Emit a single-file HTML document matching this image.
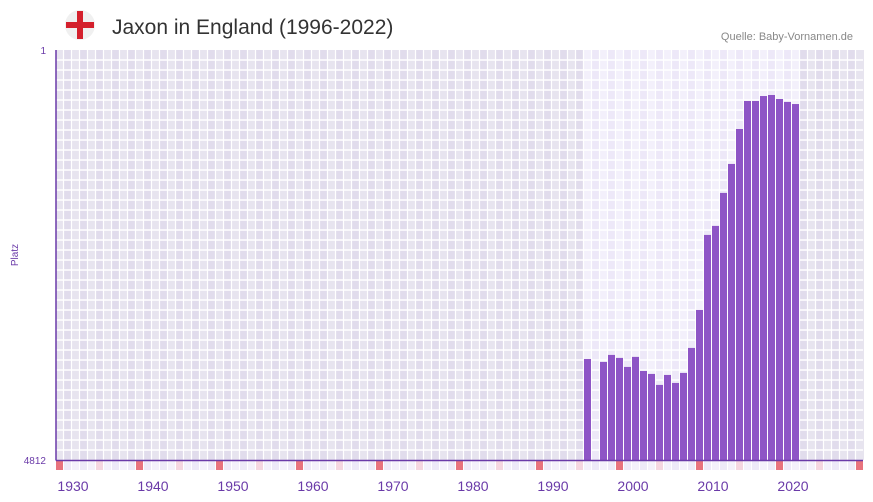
<!DOCTYPE html>
<html><head><meta charset="utf-8">
<style>
body{margin:0;background:#fff;font-family:"Liberation Sans",sans-serif;}
#wrap{position:relative;width:873px;height:502px;overflow:hidden}
</style></head><body>
<div id="wrap">
<svg id="svg" width="873" height="502" xmlns="http://www.w3.org/2000/svg">
  <g>
    <circle cx="80" cy="25" r="15" fill="#f0f0f0"/>
    <rect x="66" y="22" width="28" height="6" fill="#d4202c"/>
    <rect x="77" y="11" width="6" height="28" fill="#d4202c"/>
  </g>
  <text x="112" y="34" font-size="21" fill="#333">Jaxon in England (1996-2022)</text>
  <text x="853" y="40" font-size="11" fill="#888" text-anchor="end">Quelle: Baby-Vornamen.de</text>
  <text x="18" y="255" font-size="10" fill="#6a3aa8" text-anchor="middle" transform="rotate(-90 18 255)">Platz</text>
  <text x="46" y="54" font-size="10" fill="#6a3aa8" text-anchor="end">1</text>
  <text x="46" y="464" font-size="10" fill="#6a3aa8" text-anchor="end">4812</text>
  <g id="bg"></g><g id="bars"></g><g id="strip"></g><g id="xt"></g>
  <line x1="56" y1="50" x2="56" y2="460.5" stroke="#6a3aa8" stroke-width="1.5"/>
  <line x1="56" y1="460.5" x2="863" y2="460.5" stroke="#6a3aa8" stroke-width="1.5"/>
</svg>
</div>
<script>
const years=[1994,1995,1996,1997,1998,1999,2000,2001,2002,2003,2004,2005,2006,2007,2008,2009,2010,2011,2012,2013,2014,2015,2016,2017,2018,2019,2020];
const ranks=[3627,null,3661,3579,3614,3720,3602,3767,3802,3931,3814,3908,3790,3497,3051,2171,2065,1678,1338,928,599,599,541,529,576,611,635];
const xTicks=[1930,1940,1950,1960,1970,1980,1990,2000,2010,2020];
const minYear=1928,maxYear=2028,maxRank=4812;
const NS="http://www.w3.org/2000/svg";
const plotX0=56,colW=8,plotTop=50,plotBot=460;
const xs=y=>plotX0+(y-minYear)*colW;
const ys=r=>plotTop+(r-1)/(maxRank-1)*(plotBot-plotTop);
function mk(t,a,p){const e=document.createElementNS(NS,t);for(const k in a)e.setAttribute(k,a[k]);p.appendChild(e);return e;}
const bg=document.getElementById('bg');
const hiStart=years[0],hiEnd=years[years.length-1];
for(let y=minYear;y<=maxYear;y++){
  const hi=y>=hiStart&&y<=hiEnd;const alt=(y%2===0);
  const fill=hi?(alt?'#f3f0fb':'#ede8f8'):(alt?'#e7e4ef':'#e1dcec');
  const r=mk('rect',{x:xs(y),y:plotTop,width:colW,height:plotBot-plotTop,fill:fill},bg);
  
  
}
for(let yy=plotTop+10;yy<plotBot;yy+=10){const l=mk('line',{x1:plotX0,x2:863,y1:yy,y2:yy,stroke:'#fff','stroke-width':1.5},bg);
  
  }
for(let y=minYear+1;y<=maxYear;y++){const l=mk('line',{x1:xs(y)-0.5,x2:xs(y)-0.5,y1:plotTop,y2:plotBot,stroke:'#fff','stroke-width':1.2},bg);
  
  }
const bars=document.getElementById('bars');
years.forEach((y,i)=>{if(ranks[i]==null)return;const t=ys(ranks[i]);
  const b=mk('rect',{x:xs(y),y:t,width:colW-1,height:plotBot-t,fill:'#8e55c6'},bars);
  
  });
const strip=document.getElementById('strip');
for(let y=minYear;y<=maxYear;y++){const d=(y-minYear)%10;
  const f=d===0?'#e8737d':d===5?'#f5d6e0':(y%2?'#eeeaf8':'#f4f1fb');
  const c=mk('rect',{x:xs(y),y:461,width:colW-1,height:9,fill:f},strip);
  
  }
const xt=document.getElementById('xt');
xTicks.forEach(t=>{const e=mk('text',{x:xs(t)+1,y:491,'font-size':14,fill:'#6a3aa8','text-anchor':'middle'},xt);e.textContent=t;
  
  });
</script>
</body></html>
